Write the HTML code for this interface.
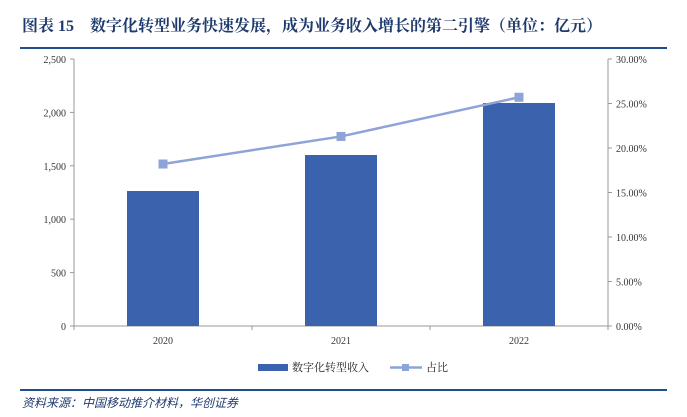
<!DOCTYPE html>
<html><head><meta charset="utf-8"><style>
body{margin:0;width:687px;height:412px;background:#fff;overflow:hidden;font-family:"Liberation Serif","Noto Serif CJK SC",serif}
</style></head><body>
<svg width="687" height="412" xmlns="http://www.w3.org/2000/svg">
<text x="22" y="31" font-size="16" font-weight="bold" fill="#1f3a6e" font-family="Liberation Serif,Noto Serif CJK SC,serif">图表 15　数字化转型业务快速发展，成为业务收入增长的第二引擎（单位：亿元）</text>
<line x1="20" y1="48" x2="667" y2="48" stroke="#1f4e8c" stroke-width="2"/>
<g id="plot"></g>
<g>
<rect x="258" y="364" width="30" height="7" fill="#3a62ad"/>
<text x="292" y="371" font-size="11" fill="#222">数字化转型收入</text>
<line x1="390" y1="367.5" x2="422" y2="367.5" stroke="#8ea3d8" stroke-width="2.5"/>
<rect x="402" y="364" width="7" height="7" fill="#8ea3d8"/>
<text x="426" y="371" font-size="11" fill="#222">占比</text>
</g>
<line x1="20" y1="390" x2="667" y2="390" stroke="#1f4e8c" stroke-width="2"/>
<text x="22" y="407" font-size="12" font-style="italic" fill="#1f3a6e" font-family="Liberation Serif,Noto Sans CJK SC,serif">资料来源：中国移动推介材料，华创证券</text>
</svg>
<script>
const categories=["2020","2021","2022"];
const revenue=[1264,1601,2088];
const share=[18.2,21.3,25.7];
const leftTicks=[0,500,1000,1500,2000,2500];
const rightTicks=[0,5,10,15,20,25,30];
const NS="http://www.w3.org/2000/svg";
const g=document.getElementById('plot');
const X0=74,X1=608,Y0=326,Y1=59;
const band=(X1-X0)/categories.length;
const xC=i=>X0+band*(i+0.5);
const yL=v=>Y0-(v/2500)*(Y0-Y1);
const yR=v=>Y0-(v/30)*(Y0-Y1);
function mk(t,a,txt){const e=document.createElementNS(NS,t);for(const k in a)e.setAttribute(k,a[k]);if(txt!=null)e.textContent=txt;g.appendChild(e);return e;}
let e;
e=mk('line',{x1:X0,y1:Y1,x2:X0,y2:Y0,stroke:'#999'});


e=mk('line',{x1:X1,y1:Y1,x2:X1,y2:Y0,stroke:'#999'});


e=mk('line',{x1:X0,y1:Y0,x2:X1,y2:Y0,stroke:'#999'});


leftTicks.forEach(v=>{const y=yL(v);mk('line',{x1:X0-4,y1:y,x2:X0,y2:y,stroke:'#999'});
e=mk('text',{x:X0-8,y:y+4,'font-size':10,'text-anchor':'end',fill:'#333'},v.toLocaleString('en-US'));

});
rightTicks.forEach(v=>{const y=yR(v);mk('line',{x1:X1,y1:y,x2:X1+4,y2:y,stroke:'#999'});
e=mk('text',{x:X1+8,y:y+4,'font-size':10,fill:'#333'},v.toFixed(2)+'%');

});
for(let i=0;i<=categories.length;i++){const x=X0+band*i;mk('line',{x1:x,y1:Y0,x2:x,y2:Y0+4,stroke:'#999'});}
categories.forEach((c,i)=>{
e=mk('rect',{x:xC(i)-36,y:yL(revenue[i]),width:72,height:Y0-yL(revenue[i]),fill:'#3a62ad'});


e=mk('text',{x:xC(i),y:Y0+18,'font-size':10,'text-anchor':'middle',fill:'#333'},c);


});
e=mk('polyline',{points:share.map((v,i)=>xC(i)+','+yR(v)).join(' '),fill:'none',stroke:'#8ea3d8','stroke-width':2.5});


share.forEach((v,i)=>{e=mk('rect',{x:xC(i)-4.5,y:yR(v)-4.5,width:9,height:9,fill:'#8ea3d8'});

});
</script>
</body></html>
